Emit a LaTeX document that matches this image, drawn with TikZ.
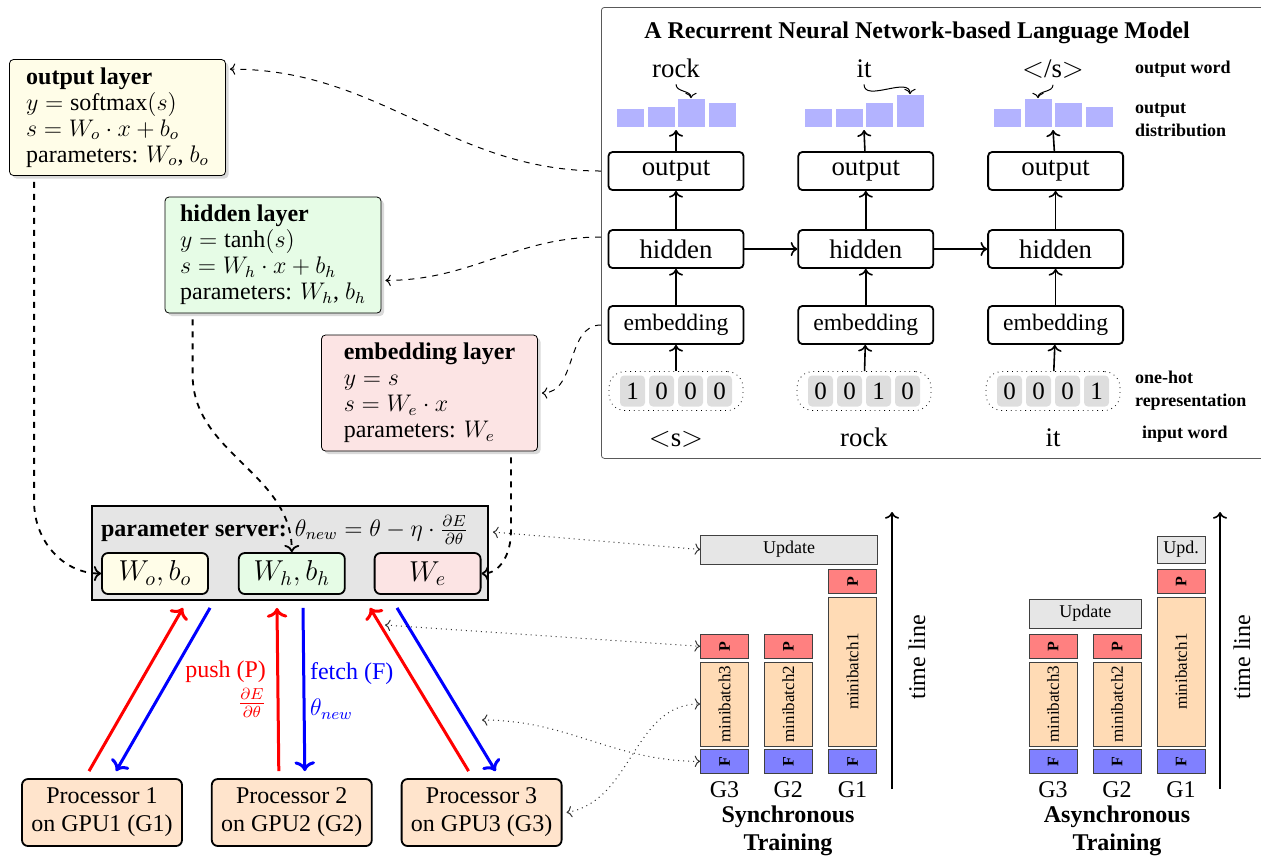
\documentclass[tikz,border=0pt]{standalone}
\usepackage{amsmath}
\usepackage{fontspec}
\setmainfont{Liberation Serif}
\usepackage{tikz}
\usetikzlibrary{shapes,arrows.meta,positioning,shadows,calc}
\definecolor{outyellow}{RGB}{255,253,232}
\definecolor{hidgreen}{RGB}{230,252,230}
\definecolor{embpink}{RGB}{252,228,228}
\definecolor{procpeach}{RGB}{255,228,204}
\definecolor{barblue}{RGB}{179,179,255}
\definecolor{pushred}{RGB}{255,128,128}
\definecolor{fetchblue}{RGB}{128,128,255}
\definecolor{batchpeach}{RGB}{255,219,181}
\definecolor{updgray}{RGB}{230,230,230}
\definecolor{cellgray}{RGB}{222,222,222}

\begin{document}
\begin{tikzpicture}[
    x=0.5pt, y=-0.5pt,
    rnnbox/.style={rectangle, draw, line width=0.9pt, rounded corners=2pt, minimum width=67.5pt, minimum height=19pt, inner sep=1pt, font=\fontsize{13.4}{15}\selectfont},
    layerbox/.style={rectangle, draw, rounded corners=2pt, minimum width=108pt, minimum height=58pt, align=left, font=\fontsize{12}{13}\selectfont, drop shadow={shadow xshift=1.5pt, shadow yshift=-1.5pt, opacity=0.3}},
    parbox/.style={rectangle, draw, line width=0.9pt, rounded corners=3pt, minimum width=53pt, minimum height=20.5pt, font=\fontsize{14}{16}\selectfont},
    procbox/.style={rectangle, draw, line width=0.9pt, rounded corners=3pt, fill=procpeach, minimum width=80pt, minimum height=33.5pt, align=center, font=\fontsize{12}{14}\selectfont},
    cell/.style={rectangle, fill=cellgray, rounded corners=2pt, minimum width=12.5pt, minimum height=15.5pt, inner sep=0pt, font=\fontsize{12.5}{14}\selectfont},
    onehot/.style={rectangle, draw, dotted, rounded corners=8pt, minimum width=67pt, minimum height=19.5pt},
    bar/.style={rectangle, fill=barblue, minimum width=13.5pt, inner sep=0pt, anchor=south},
    wordtxt/.style={anchor=base, font=\fontsize{13.4}{15}\selectfont},
    sidelabel/.style={anchor=west, align=left, font=\fontsize{9}{11.5}\selectfont\bfseries},
    tbox/.style={rectangle, draw=black!75, inner sep=0pt, minimum width=24pt},
    pbox/.style={tbox, fill=pushred, minimum height=12pt, font=\fontsize{8}{9}\selectfont\bfseries},
    fbox/.style={tbox, fill=fetchblue, minimum height=12pt, font=\fontsize{8}{9}\selectfont\bfseries},
    mbbox/.style={tbox, fill=batchpeach, font=\fontsize{8.5}{9}\selectfont},
    updbox/.style={tbox, fill=updgray, minimum height=14.5pt, font=\fontsize{9}{10}\selectfont},
    glabel/.style={font=\fontsize{12}{14}\selectfont},
    arrow/.style={->, line width=0.8pt},
    curvearrow/.style={->, line width=0.5pt},
    dlink/.style={->, dashed, line width=0.5pt},
    pdash/.style={->, dashed, line width=0.9pt},
    link/.style={<->, dotted, line width=0.5pt, black!80},
    push/.style={->, red, line width=1.5pt},
    fetch/.style={->, blue, line width=1.5pt}
]
\useasboundingbox (0,0) rectangle (1261,859);

% === RNN LANGUAGE MODEL (top right) ===
\node[draw=black!65, rounded corners=1.5pt, anchor=north west, minimum width=340pt, minimum height=225.5pt, inner sep=0pt] (rnn) at (601,7) {};
\node[anchor=base, font=\fontsize{12}{14}\selectfont\bfseries] (title) at (917,38) {A Recurrent Neural Network-based Language Model};

\node[rnnbox] (out1) at (676,171) {output};
\node[rnnbox, right=26.5pt of out1] (out2) {output};
\node[rnnbox, right=26.5pt of out2] (out3) {output};

\node[rnnbox] (hid1) at (676,249) {hidden};
\node[rnnbox, right=26.5pt of hid1] (hid2) {hidden};
\node[rnnbox, right=26.5pt of hid2] (hid3) {hidden};

\node[rnnbox, font=\fontsize{11.8}{14}\selectfont] (emb1) at (676,325) {embedding};
\node[rnnbox, font=\fontsize{11.8}{14}\selectfont, right=26.5pt of emb1] (emb2) {embedding};
\node[rnnbox, font=\fontsize{11.8}{14}\selectfont, right=26.5pt of emb2] (emb3) {embedding};

% one-hot vectors
\node[onehot] (oh1) at (676,391) {};
\node[cell] (c11) at (632.5,391) {1};
\node[cell] (c12) at (661.5,391) {0};
\node[cell] (c13) at (690.5,391) {0};
\node[cell] (c14) at (719.5,391) {0};
\node[onehot] (oh2) at (864,391) {};
\node[cell] (c21) at (820.5,391) {0};
\node[cell] (c22) at (849.5,391) {0};
\node[cell] (c23) at (878.5,391) {1};
\node[cell] (c24) at (907.5,391) {0};
\node[onehot] (oh3) at (1053,391) {};
\node[cell] (c31) at (1009.5,391) {0};
\node[cell] (c32) at (1038.5,391) {0};
\node[cell] (c33) at (1067.5,391) {0};
\node[cell] (c34) at (1096.5,391) {1};

\node[wordtxt] (in1) at (676,446) {$<$s$>$};
\node[wordtxt] (in2) at (864,446) {rock};
\node[wordtxt] (in3) at (1053,446) {it};

% output distributions
\node[bar, minimum height=9pt] (b11) at (630,127) {};
\node[bar, minimum height=10pt] (b12) at (661,127) {};
\node[bar, minimum height=14pt] (b13) at (691,127) {};
\node[bar, minimum height=12pt] (b14) at (722,127) {};
\node[bar, minimum height=9pt] (b21) at (818,127) {};
\node[bar, minimum height=9pt] (b22) at (849,127) {};
\node[bar, minimum height=12pt] (b23) at (879,127) {};
\node[bar, minimum height=16pt] (b24) at (910,127) {};
\node[bar, minimum height=9pt] (b31) at (1007,127) {};
\node[bar, minimum height=14pt] (b32) at (1038,127) {};
\node[bar, minimum height=12pt] (b33) at (1068,127) {};
\node[bar, minimum height=10pt] (b34) at (1099,127) {};

\node[wordtxt] (w1) at (676,77) {rock};
\node[wordtxt] (w2) at (864,77) {it};
\node[wordtxt] (w3) at (1053,77) {$<$/s$>$};

\coordinate (d1) at (676,130);
\coordinate (d2) at (864,130);
\coordinate (d3) at (1053,130);

% side labels
\node[sidelabel] (lblword) at (1128,69) {output word};
\node[sidelabel] (lbldist) at (1128,120) {output\\distribution};
\node[sidelabel] (lblhot) at (1128,391) {one-hot\\representation};
\node[sidelabel] (lblin) at (1135,434) {input word};

% === LAYER BOXES (left) ===
\node[layerbox, fill=outyellow] (outlayer) at (117.5,117.5) {\textbf{output layer}\\$y=\mathrm{softmax}(s)$\\$s=W_o\cdot x+b_o$\\parameters: $W_o$, $b_o$};
\node[layerbox, fill=hidgreen] (hidlayer) at (273,255) {\textbf{hidden layer}\\$y=\tanh(s)$\\$s=W_h\cdot x+b_h$\\parameters: $W_h$, $b_h$};
\node[layerbox, fill=embpink] (emblayer) at (429.5,393) {\textbf{embedding layer}\\$y=s$\\$s=W_e\cdot x$\\parameters: $W_e$};

% === PARAMETER SERVER ===
\node[draw, line width=0.9pt, fill=gray!20, minimum width=198pt, minimum height=47pt, inner sep=0pt] (server) at (290,553) {};
\node[anchor=base west, font=\fontsize{12}{14}\selectfont] (srvtitle) at (94,536) {\textbf{parameter server:} $\theta_{new}=\theta-\eta\cdot\frac{\partial E}{\partial\theta}$};
\node[parbox, fill=outyellow] (wo) at (155,573.5) {$W_o, b_o$};
\node[parbox, fill=hidgreen, right=14.5pt of wo] (wh) {$W_h, b_h$};
\node[parbox, fill=embpink, right=14pt of wh] (we) {$W_e$};

% === PROCESSORS ===
\node[procbox] (proc1) at (102,812.5) {Processor 1\\on GPU1 (G1)};
\node[procbox, right=14pt of proc1] (proc2) {Processor 2\\on GPU2 (G2)};
\node[procbox, right=14pt of proc2] (proc3) {Processor 3\\on GPU3 (G3)};

\node[anchor=east, text=red, font=\fontsize{12}{14}\selectfont] (pushlbl) at (273,672) {push (P)};
\node[text=red, font=\fontsize{12}{14}\selectfont] (pushgrad) at (252,703) {$\frac{\partial E}{\partial\theta}$};
\node[anchor=west, text=blue, font=\fontsize{12}{14}\selectfont] (fetchlbl) at (303,674) {fetch (F)};
\node[anchor=west, text=blue, font=\fontsize{12}{14}\selectfont] (fetchval) at (303,709) {$\theta_{new}$};

% === SYNCHRONOUS TRAINING ===
\node[updbox, minimum width=88.3pt] (supd) at (789,549.5) {Update};
\node[pbox] (sp1) at (852.5,581.7) {\rotatebox{90}{P}};
\node[mbbox, minimum height=74.5pt] (smb1) at (852.5,671.7) {\rotatebox{90}{minibatch1}};
\node[fbox] (sf1) at (852.5,761.3) {\rotatebox{90}{F}};
\node[pbox] (sp2) at (788.3,646.3) {\rotatebox{90}{P}};
\node[mbbox, minimum height=42pt] (smb2) at (788.3,704) {\rotatebox{90}{minibatch2}};
\node[fbox] (sf2) at (788.3,761.3) {\rotatebox{90}{F}};
\node[pbox] (sp3) at (724.5,646.3) {\rotatebox{90}{P}};
\node[mbbox, minimum height=42pt] (smb3) at (724.5,704) {\rotatebox{90}{minibatch3}};
\node[fbox] (sf3) at (724.5,761.3) {\rotatebox{90}{F}};

\node[glabel] (sg3) at (724.5,790) {G3};
\node[glabel] (sg2) at (788.3,790) {G2};
\node[glabel] (sg1) at (852.5,790) {G1};
\node[align=center, font=\fontsize{12}{14}\selectfont\bfseries] (synclbl) at (788,831) {Synchronous\\Training};

\coordinate (st0) at (892,789);
\coordinate (st1) at (892,512);
\node[glabel, rotate=90] (stime) at (917,657) {time line};

% === ASYNCHRONOUS TRAINING ===
\node[updbox, minimum width=56.3pt] (aupd) at (1085.3,613.5) {Update};
\node[updbox, minimum height=13.5pt] (aupd1) at (1181,549.5) {Upd.};
\node[pbox] (ap1) at (1181,581.7) {\rotatebox{90}{P}};
\node[mbbox, minimum height=74.5pt] (amb1) at (1181,671.7) {\rotatebox{90}{minibatch1}};
\node[fbox] (af1) at (1181,761.3) {\rotatebox{90}{F}};
\node[pbox] (ap2) at (1117,646.3) {\rotatebox{90}{P}};
\node[mbbox, minimum height=42pt] (amb2) at (1117,704) {\rotatebox{90}{minibatch2}};
\node[fbox] (af2) at (1117,761.3) {\rotatebox{90}{F}};
\node[pbox] (ap3) at (1053,646.3) {\rotatebox{90}{P}};
\node[mbbox, minimum height=42pt] (amb3) at (1053,704) {\rotatebox{90}{minibatch3}};
\node[fbox] (af3) at (1053,761.3) {\rotatebox{90}{F}};

\node[glabel] (ag3) at (1053,790) {G3};
\node[glabel] (ag2) at (1117,790) {G2};
\node[glabel] (ag1) at (1181,790) {G1};
\node[align=center, font=\fontsize{12}{14}\selectfont\bfseries] (asynclbl) at (1117,831) {Asynchronous\\Training};

\coordinate (at0) at (1220,789);
\coordinate (at1) at (1220,512);
\node[glabel, rotate=90] (atime) at (1242,657) {time line};

% === ARROWS ===
\draw[arrow] (oh1) -- (emb1);
\draw[arrow] (oh2) -- (emb2);
\draw[arrow] (oh3) -- (emb3);
\draw[arrow] (emb1) -- (hid1);
\draw[arrow] (emb2) -- (hid2);
\draw[arrow] (emb3) -- (hid3);
\draw[arrow] (hid1) -- (out1);
\draw[arrow] (hid2) -- (out2);
\draw[arrow] (hid3) -- (out3);
\draw[arrow] (out1) -- (d1);
\draw[arrow] (out2) -- (d2);
\draw[arrow] (out3) -- (d3);
\draw[arrow] (hid1) -- (hid2);
\draw[arrow] (hid2) -- (hid3);

\draw[curvearrow] (w1.south) to[out=-90, in=90] (b13.north);
\draw[curvearrow] (w2.south) to[out=-90, in=90] (b24.north);
\draw[curvearrow] (w3.south) to[out=-90, in=90] (b32.north);

\draw[dlink] (out1.west -| rnn.west) to[out=180, in=0] ([xshift=2pt,yshift=-5pt]outlayer.north east);
\draw[dlink] ([yshift=6pt]hid1.west -| rnn.west) to[out=180, in=0] ([xshift=2pt,yshift=16.5pt]hidlayer.south east);
\draw[dlink] (emb1.west -| rnn.west) to[out=180, in=0] ([xshift=2pt]emblayer.east);

\draw[pdash] ([xshift=12.5pt,yshift=-3pt]outlayer.south west) -- ++(0,320) to[out=-90, in=180] (wo.west);
\draw[pdash] ([xshift=14pt,yshift=-3pt]hidlayer.south west) -- ++(0,55) to[out=-90, in=90] (wh.north);
\draw[pdash] ([xshift=-13.5pt,yshift=-3pt]emblayer.south east) -- ++(0,75) to[out=-90, in=0] (we.east);

\draw[push] ([xshift=-6.5pt,yshift=3.5pt]proc1.north) -- ([xshift=-53.5pt,yshift=-3.5pt]server.south);
\draw[fetch] ([xshift=-40pt,yshift=-3.5pt]server.south) -- ([xshift=7pt,yshift=3.5pt]proc1.north);
\draw[push] ([xshift=-6.5pt,yshift=3.5pt]proc2.north) -- ([xshift=-6.5pt,yshift=-3.5pt]server.south);
\draw[fetch] ([xshift=6.5pt,yshift=-3.5pt]server.south) -- ([xshift=6.5pt,yshift=3.5pt]proc2.north);
\draw[push] ([xshift=-6.5pt,yshift=3.5pt]proc3.north) -- ([xshift=40pt,yshift=-3.5pt]server.south);
\draw[fetch] ([xshift=53.5pt,yshift=-3.5pt]server.south) -- ([xshift=7pt,yshift=3.5pt]proc3.north);

\draw[arrow] (st0) -- (st1);
\draw[arrow] (at0) -- (at1);

\coordinate (pushmark) at (385,625);
\coordinate (fetchmark) at (482,720);
\draw[link] ([xshift=2pt,yshift=10.5pt]server.east) -- (supd.west);
\draw[link] (pushmark) -- (sp3.west);
\draw[link] ([xshift=2pt]proc3.east) to[out=10, in=180] (smb3.west);
\draw[link] (fetchmark) to[out=0, in=180] (sf3.west);

\end{tikzpicture}
\end{document}
